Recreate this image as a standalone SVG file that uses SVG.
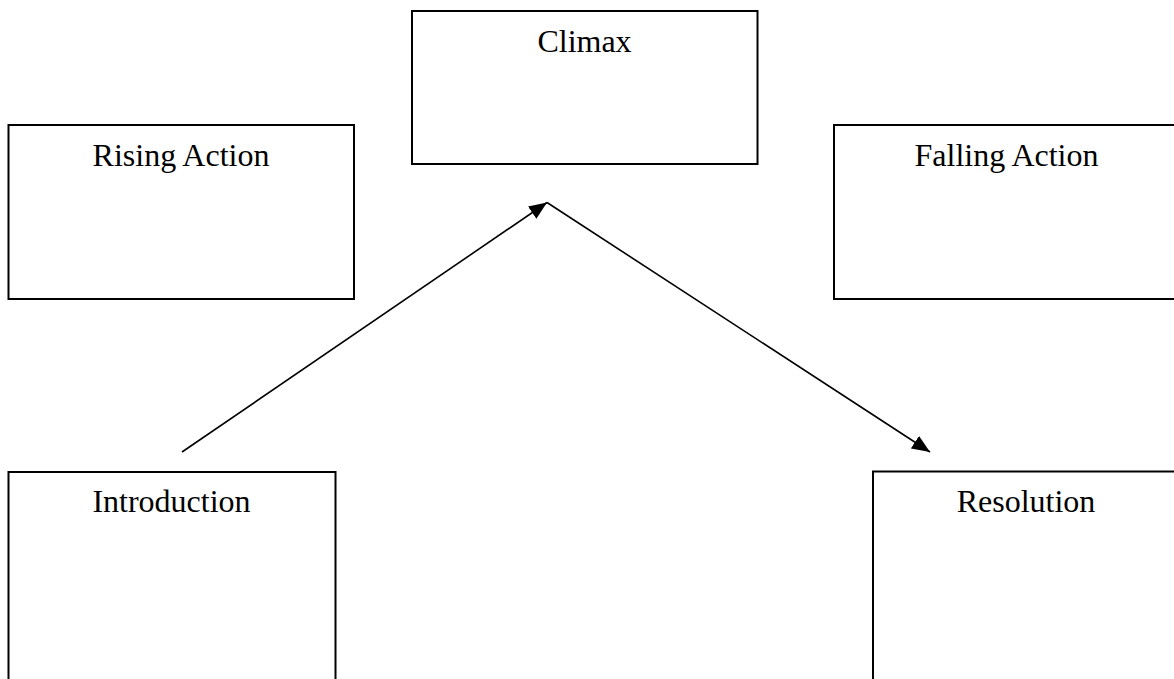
<svg xmlns="http://www.w3.org/2000/svg" width="1174" height="679" viewBox="0 0 1174 679">
  <style>
    .box { fill: #ffffff; stroke: #000000; stroke-width: 2; }
    .label { font-family: "Liberation Serif", "Times New Roman", serif; font-size: 32px; fill: #000000; text-anchor: middle; }
    .conn { stroke: #000000; stroke-width: 1.6; fill: none; marker-end: url(#arrow); }
  </style>
  <defs>
    <marker id="arrow" markerUnits="userSpaceOnUse" markerWidth="20" markerHeight="16" refX="18" refY="8" orient="auto">
      <path d="M0,0.5 L18,8 L0,15.5 Z" fill="#000000"/>
    </marker>
  </defs>
  <rect width="1174" height="679" fill="#ffffff"/>
  <g id="climax">
    <rect class="box" x="412" y="11" width="345.5" height="153"/>
    <text class="label" x="584.5" y="51.5">Climax</text>
  </g>
  <g id="rising-action">
    <rect class="box" x="8.5" y="125" width="345.5" height="174"/>
    <text class="label" x="181" y="165.5">Rising Action</text>
  </g>
  <g id="falling-action">
    <rect class="box" x="834" y="125" width="346" height="174"/>
    <text class="label" x="1006.5" y="166">Falling Action</text>
  </g>
  <g id="introduction">
    <rect class="box" x="8.5" y="472" width="327" height="230"/>
    <text class="label" x="171.5" y="511.5">Introduction</text>
  </g>
  <g id="resolution">
    <rect class="box" x="873" y="471.5" width="320" height="230"/>
    <text class="label" x="1026" y="511.5">Resolution</text>
  </g>
  <g id="connectors">
    <line class="conn" x1="182" y1="452" x2="547" y2="202.5"/>
    <line class="conn" x1="547" y1="202.5" x2="930" y2="452"/>
  </g>
</svg>
